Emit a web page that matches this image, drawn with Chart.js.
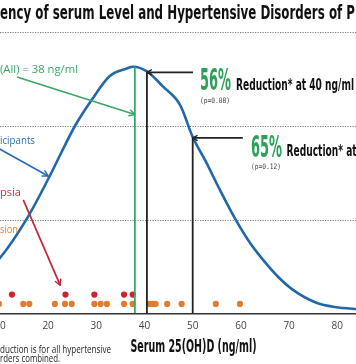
<!DOCTYPE html>
<html><head><meta charset="utf-8">
<script src="https://cdn.jsdelivr.net/npm/chart.js@4/dist/chart.umd.min.js"></script>
<style>
html,body{margin:0;padding:0;width:356px;height:364px;overflow:hidden;background:#fff;}
#wrap{position:absolute;left:-120px;top:0;width:536px;height:364px;}
</style></head><body>
<div id="wrap"><canvas id="c" width="536" height="364"></canvas></div>
<script>
// ---- data ----
const curveX = [0, 5, 10, 15.6, 20.4, 22.8, 25.6, 29.1, 32.8, 36.3, 37.6, 40.5, 43.8, 47.4, 50, 52.6, 55.7, 59, 61.9, 64.6, 67.7, 70.8, 75.8, 79.5, 83.9, 90];
const curveY = [0.17, 0.35, 0.59, 1.01, 1.47, 1.72, 2.0, 2.28, 2.53, 2.61, 2.63, 2.58, 2.42, 2.22, 1.88, 1.63, 1.31, 0.99, 0.75, 0.57, 0.39, 0.25, 0.11, 0.067, 0.046, 0.03];
const preeclampsiaX = [12.5, 23.6, 29.6, 35.75, 37.55];
const gestHypX = [9.8, 14.85, 16.1, 21.4, 23.5, 24.9, 29.6, 30.9, 32.2, 35.75, 37.55, 41.0, 41.7, 42.3, 44.7, 47.7, 54.8, 59.8];
const preeclampsiaRow = 0.2;
const gestHypRow = 0.1;
const medianX = 38, medianTop = 2.63;
const cutoffX = [40.5, 50];
const cutoffTop = [2.57, 1.87];
const calloutEndX = [50.06, 60.4];
const xTickValues = [0, 10, 20, 30, 40, 50, 60, 70, 80, 90];
const gridLevels = [1, 2, 3];
// annotation arrows (data units): from -> to
const arrowFromX = [13.55, 7.9, 14.85];
const arrowFromY = [2.52, 1.81, 1.21];
const arrowToX = [38.0, 20.0, 22.5];
const arrowToY = [2.12, 1.465, 0.30];
const arrowColors = ['#3aa866', '#2a6db0', '#c0283a'];

const OFF = 120;
const COND = '"Liberation Sans Narrow","DejaVu Sans Condensed",Roboto,"Liberation Sans",sans-serif';
const SANS = '"Open Sans","Noto Sans","DejaVu Sans",sans-serif';

function pts(xs, ys) { return xs.map((x, i) => ({ x: x, y: Array.isArray(ys) ? ys[i] : ys })); }

function arrowHead(ctx, x1, y1, x2, y2, color, lw, head) {
  const a = Math.atan2(y2 - y1, x2 - x1);
  ctx.save();
  ctx.strokeStyle = color; ctx.lineWidth = lw; ctx.lineCap = 'round'; ctx.lineJoin = 'round';
  ctx.beginPath();
  ctx.moveTo(x2 - head * Math.cos(a - 0.5), y2 - head * Math.sin(a - 0.5));
  ctx.lineTo(x2, y2);
  ctx.lineTo(x2 - head * Math.cos(a + 0.5), y2 - head * Math.sin(a + 0.5));
  ctx.stroke();
  ctx.restore();
}

function fitText(ctx, full, visible, mode, vx, baseline, w, font, color) {
  ctx.save();
  ctx.font = font; ctx.fillStyle = color; ctx.textBaseline = 'alphabetic';
  const mv = ctx.measureText(visible).width;
  const sx = w / mv;
  ctx.translate(vx + OFF, baseline);
  ctx.scale(sx, 1);
  if (mode === 'suffix') { ctx.textAlign = 'right'; ctx.fillText(full, mv, 0); }
  else if (mode === 'prefix') { ctx.textAlign = 'left'; ctx.fillText(full, 0, 0); }
  else {
    const idx = full.indexOf(visible);
    const pre = ctx.measureText(full.slice(0, idx)).width;
    ctx.textAlign = 'left'; ctx.fillText(full, -pre, 0);
  }
  ctx.restore();
}

const decor = {
  id: 'decor',
  beforeDatasetsDraw(chart) {
    const ctx = chart.ctx, ys = chart.scales.y;
    ctx.save();
    ctx.strokeStyle = '#777'; ctx.lineWidth = 1; ctx.setLineDash([1.2, 1.3]);
    gridLevels.forEach(v => {
      const y = Math.round(ys.getPixelForValue(v)) + 0.5;
      ctx.beginPath(); ctx.moveTo(0, y); ctx.lineTo(chart.width, y); ctx.stroke();
    });
    ctx.restore();
  },
  afterDraw(chart) {
    const ctx = chart.ctx, xs = chart.scales.x, ys = chart.scales.y;
    // annotation arrows
    arrowFromX.forEach((fx, i) => {
      const x1 = xs.getPixelForValue(fx), y1 = ys.getPixelForValue(arrowFromY[i]);
      const x2 = xs.getPixelForValue(arrowToX[i]), y2 = ys.getPixelForValue(arrowToY[i]);
      ctx.save(); ctx.strokeStyle = arrowColors[i]; ctx.lineWidth = 1.7;
      ctx.beginPath(); ctx.moveTo(x1, y1); ctx.lineTo(x2, y2); ctx.stroke(); ctx.restore();
      arrowHead(ctx, x1, y1, x2, y2, arrowColors[i], 1.5, 6);
    });
    // callout heads
    cutoffX.forEach((cx, i) => {
      const y = ys.getPixelForValue(cutoffTop[i]);
      arrowHead(ctx, xs.getPixelForValue(calloutEndX[i]), y, xs.getPixelForValue(cx), y, '#222', 1.4, 5);
    });
    // texts
    fitText(ctx, 'Frequency of serum Level and Hypertensive Disorders of Pregnancy', 'ency of serum Level and Hypertensive Disorders of P', 'mid', 0, 18.5, 355, 'bold 19.5px ' + COND, '#111');
    fitText(ctx, 'Median (All) = 38 ng/ml', '(All) = 38 ng/ml', 'suffix', 0, 72.5, 78, '10.5px ' + SANS, '#3aa866');
    fitText(ctx, 'All Participants', 'icipants', 'suffix', 0, 143.5, 35, '10.5px ' + SANS, '#2f6db5');
    fitText(ctx, 'Preeclampsia', 'psia', 'suffix', 0, 196, 21, '10.5px ' + SANS, '#d03040');
    fitText(ctx, 'Gestational Hypertension', 'sion', 'suffix', 0, 232.5, 18, '10.5px ' + SANS, '#e08030');
    fitText(ctx, '56%', '56%', 'prefix', 200, 90, 31, 'bold 30px ' + COND, '#2ca05a');
    fitText(ctx, 'Reduction* at 40 ng/ml', 'Reduction* at 40 ng/ml', 'prefix', 236, 89.5, 118, 'bold 16px ' + COND, '#111');
    fitText(ctx, '(p=0.08)', '(p=0.08)', 'prefix', 200, 102.5, 30, '7.5px "DejaVu Sans Mono",monospace', '#444');
    fitText(ctx, '65%', '65%', 'prefix', 251, 156.5, 31, 'bold 30px ' + COND, '#2ca05a');
    fitText(ctx, 'Reduction* at 50 ng/ml', 'Reduction* at 50 ng/ml', 'prefix', 286.5, 155.5, 118, 'bold 16px ' + COND, '#111');
    fitText(ctx, '(p=0.12)', '(p=0.12)', 'prefix', 251, 168.5, 30, '7.5px "DejaVu Sans Mono",monospace', '#444');
    fitText(ctx, 'Serum 25(OH)D (ng/ml)', 'Serum 25(OH)D (ng/ml)', 'prefix', 130.5, 352.3, 126, 'bold 17.5px ' + COND, '#111');
    fitText(ctx, '*Reduction is for all hypertensive', 'duction is for all hypertensive', 'suffix', 0, 352.5, 111, '10px ' + SANS, '#222');
    fitText(ctx, 'disorders combined.', 'rders combined.', 'suffix', 0, 361.5, 60, '10px ' + SANS, '#222');
  }
};

const lineDS = (data, color, width, order) => ({ type: 'scatter', data, showLine: true, borderColor: color, borderWidth: width, pointRadius: 0, fill: false, order });

new Chart(document.getElementById('c'), {
  type: 'scatter',
  data: {
    datasets: [
      Object.assign(lineDS(pts(curveX, curveY), '#2268a9', 2.6, 5), { cubicInterpolationMode: 'monotone' }),
      { data: pts(gestHypX, gestHypRow), backgroundColor: '#e07c30', borderWidth: 0, pointRadius: 3.1, order: 4 },
      { data: pts(preeclampsiaX, preeclampsiaRow), backgroundColor: '#cc2233', borderWidth: 0, pointRadius: 3.1, order: 4 },
      lineDS(pts([medianX, medianX], [0, medianTop]), '#3aa866', 1.8, 1),
      lineDS(pts([cutoffX[0], cutoffX[0]], [0, cutoffTop[0]]), '#222', 1.8, 1),
      lineDS(pts([cutoffX[1], cutoffX[1]], [0, cutoffTop[1]]), '#222', 1.8, 1),
      lineDS(pts([cutoffX[0], calloutEndX[0]], [cutoffTop[0], cutoffTop[0]]), '#222', 1.8, 1),
      lineDS(pts([cutoffX[1], calloutEndX[1]], [cutoffTop[1], cutoffTop[1]]), '#222', 1.8, 1)
    ]
  },
  options: {
    responsive: false, animation: false, events: [],
    layout: { padding: { left: 71.7, right: 30.5, top: 32, bottom: 0 } },
    plugins: { legend: { display: false }, tooltip: { enabled: false }, title: { display: false } },
    scales: {
      x: {
        type: 'linear', min: 0, max: 90,
        afterBuildTicks: s => { s.ticks = xTickValues.map(v => ({ value: v })); },
        afterFit: s => { s.height = 50.7; },
        grid: { display: false, drawTicks: false },
        border: { display: true, color: '#333', width: 1.4 },
        ticks: { padding: 7, maxRotation: 0, autoSkip: false, color: '#444', font: { family: SANS, size: 10 } }
      },
      y: { type: 'linear', min: 0, max: 3, display: false }
    }
  },
  plugins: [decor]
});
</script>
</body></html>
